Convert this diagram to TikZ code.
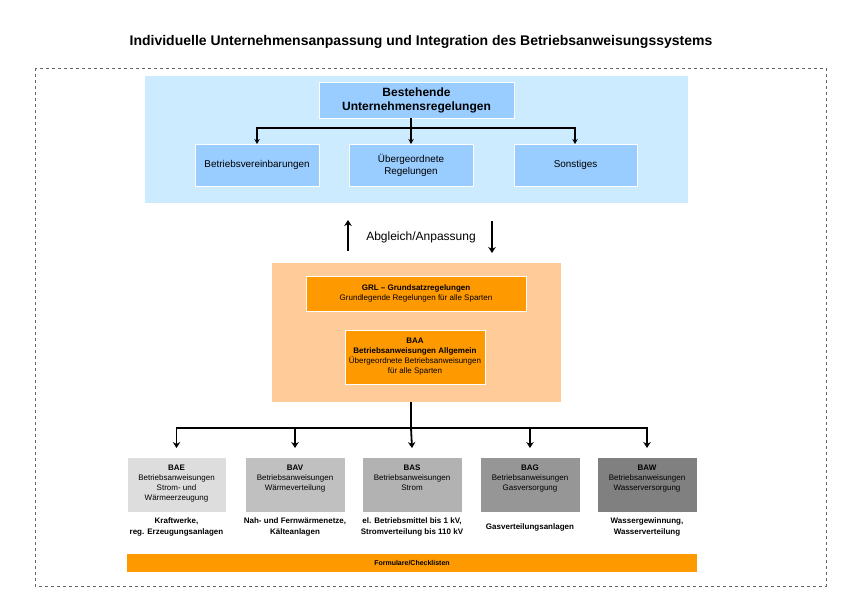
\documentclass[tikz,border=0pt]{standalone}
\usepackage{fontspec}
\setmainfont{Liberation Sans}
\usetikzlibrary{arrows.meta}
\definecolor{lblue}{HTML}{CCEBFF}
\definecolor{mblue}{HTML}{99CCFF}
\definecolor{lorange}{HTML}{FFCC99}
\definecolor{morange}{HTML}{FF9900}
\definecolor{gA}{HTML}{DDDDDD}
\definecolor{gB}{HTML}{C0C0C0}
\definecolor{gC}{HTML}{B2B2B2}
\definecolor{gD}{HTML}{969696}
\definecolor{gE}{HTML}{808080}
\tikzset{
  area/.style={anchor=north west,inner sep=0pt,outer sep=0pt},
  boxed/.style={anchor=north west,inner sep=0pt,outer sep=0pt,draw=white,line width=0.4pt,align=center},
  small/.style={font=\fontsize{8}{10}\selectfont},
  mid/.style={font=\fontsize{9.9}{12}\selectfont},
  lab/.style={inner sep=0pt,align=center,font=\bfseries\fontsize{8}{11}\selectfont},
  arr/.style={line width=1.8pt,-{Stealth[length=6pt,width=7.5pt]}},
  tarr/.style={line width=1.5pt,-{Stealth[length=5pt,width=5.5pt]}},
  txt/.style={inner sep=0pt,align=center}
}
\begin{document}
\begin{tikzpicture}[x=1pt,y=-1pt]
\useasboundingbox (0,0) rectangle (842,595);
% title
\node[txt,font=\bfseries\fontsize{14}{16}\selectfont] (title) at (421,42) {Individuelle Unternehmensanpassung und Integration des Betriebsanweisungssystems};
% dashed frame
\draw[gray!80!black,dashed,line width=0.6pt] (35,68) rectangle (826,586);
% blue area
\node[area,fill=lblue,minimum width=543pt,minimum height=127pt] (blue) at (145,76) {};
\node[boxed,fill=mblue,minimum width=195pt,minimum height=36pt,font=\bfseries\fontsize{12}{14}\selectfont] (best) at (319,82) {Bestehende\\Unternehmensregelungen};
\node[boxed,fill=mblue,minimum width=124pt,minimum height=42pt,mid] (bv) at (195,144) {Betriebsvereinbarungen};
\node[boxed,fill=mblue,minimum width=124pt,minimum height=42pt,mid] (ue) at (349,144) {Übergeordnete\\Regelungen};
\node[boxed,fill=mblue,minimum width=123pt,minimum height=42pt,mid] (so) at (514,144) {Sonstiges};
\coordinate (bj) at (411,128);
\draw[line width=1.5pt] (best.south -| bj) -- (bj);
\draw[tarr] (bj) -| (bv.north);
\draw[tarr] (bj) -- (ue.north);
\draw[tarr] (bj) -| ([xshift=-0.5pt]so.north);
% Abgleich
\node[txt,font=\fontsize{12}{14}\selectfont] (abg) at (421,237) {Abgleich/Anpassung};
\coordinate (u1) at (348,251);
\coordinate (u2) at (348,220);
\coordinate (d1) at (492,221);
\coordinate (d2) at (492,253);
\draw[arr] (u1) -- (u2);
\draw[arr] (d1) -- (d2);
% orange area
\node[area,fill=lorange,minimum width=289pt,minimum height=139pt] (orng) at (272,263) {};
\node[boxed,fill=morange,minimum width=220pt,minimum height=35pt,small] (grl) at (306,276) {\textbf{GRL – Grundsatzregelungen}\\Grundlegende Regelungen für alle Sparten};
\node[boxed,fill=morange,minimum width=140pt,minimum height=54pt,small] (baa) at (345,330) {\textbf{BAA}\\\textbf{Betriebsanweisungen Allgemein}\\Übergeordnete Betriebsanweisungen\\für alle Sparten};
% bottom boxes
\node[boxed,fill=gA,minimum width=99pt,minimum height=55pt] (bae) at (127,457) {};
\node[boxed,fill=gB,minimum width=100pt,minimum height=55pt] (bav) at (245,457) {};
\node[boxed,fill=gC,minimum width=100pt,minimum height=55pt] (bas) at (362,457) {};
\node[boxed,fill=gD,minimum width=100pt,minimum height=55pt] (bag) at (480,457) {};
\node[boxed,fill=gE,minimum width=100pt,minimum height=55pt] (baw) at (597,457) {};
\node[txt,small,anchor=north] (baet) at ([yshift=-8pt]bae.north) {\textbf{BAE}\\Betriebsanweisungen\\Strom- und\\Wärmeerzeugung};
\node[txt,small,anchor=north] (bavt) at ([yshift=-8pt]bav.north) {\textbf{BAV}\\Betriebsanweisungen\\Wärmeverteilung};
\node[txt,small,anchor=north] (bast) at ([yshift=-8pt]bas.north) {\textbf{BAS}\\Betriebsanweisungen\\Strom};
\node[txt,small,anchor=north] (bagt) at ([yshift=-8pt]bag.north) {\textbf{BAG}\\Betriebsanweisungen\\Gasversorgung};
\node[txt,small,anchor=north] (bawt) at ([yshift=-8pt]baw.north) {\textbf{BAW}\\Betriebsanweisungen\\Wasserversorgung};
% labels under
\node[lab] (l1) at (176.5,527) {Kraftwerke,\\reg. Erzeugungsanlagen};
\node[lab] (l2) at (295,527) {Nah- und Fernwärmenetze,\\Kälteanlagen};
\node[lab] (l3) at (412,527) {el. Betriebsmittel bis 1 kV,\\Stromverteilung bis 110 kV};
\node[lab] (l4) at (530,527) {Gasverteilungsanlagen};
\node[lab] (l5) at (647,527) {Wassergewinnung,\\Wasserverteilung};
% formulare bar
\node[area,fill=morange,minimum width=570pt,minimum height=18pt] (form) at (127,554) {};
\node[txt,font=\bfseries\fontsize{7}{8}\selectfont] (formt) at (form.center) {Formulare/Checklisten};
% bottom connector
\coordinate (oj) at (411,428);
\draw[line width=1.8pt] (orng.south -| oj) -- (oj);
\draw[arr] (oj) -| ([yshift=9pt]bae.north);
\draw[arr] (oj) -| ([yshift=9pt]bav.north);
\draw[arr] (oj) -- ([yshift=9pt]bas.north);
\draw[arr] (oj) -| ([yshift=9pt]bag.north);
\draw[arr] (oj) -| ([yshift=9pt]baw.north);
\end{tikzpicture}
\end{document}
